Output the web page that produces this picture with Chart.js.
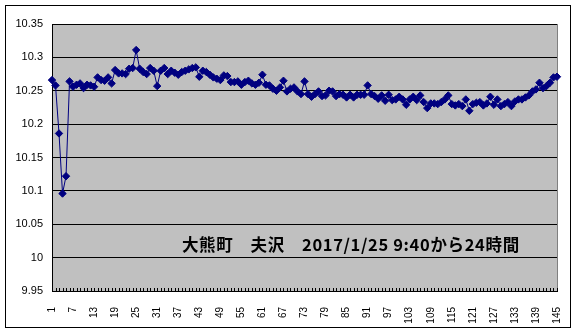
<!DOCTYPE html>
<html><head><meta charset="utf-8">
<script src="https://cdn.jsdelivr.net/npm/chart.js@4"></script>
<style>html,body{margin:0;padding:0;background:#fff}canvas{display:block}</style>
</head><body><canvas id="c" width="577" height="335"></canvas>
<script>
const categories = [1,2,3,4,5,6,7,8,9,10,11,12,13,14,15,16,17,18,19,20,21,22,23,24,25,26,27,28,29,30,
31,32,33,34,35,36,37,38,39,40,41,42,43,44,45,46,47,48,49,50,51,52,53,54,55,56,57,58,59,60,
61,62,63,64,65,66,67,68,69,70,71,72,73,74,75,76,77,78,79,80,81,82,83,84,85,86,87,88,89,90,
91,92,93,94,95,96,97,98,99,100,101,102,103,104,105,106,107,108,109,110,111,112,113,114,115,116,117,118,119,120,
121,122,123,124,125,126,127,128,129,130,131,132,133,134,135,136,137,138,139,140,141,142,143,144,145];
const values = [
10.266,10.258,10.186,10.096,10.122,10.264,10.256,10.259,10.261,10.254,
10.259,10.258,10.256,10.270,10.266,10.265,10.270,10.261,10.281,10.276,
10.276,10.275,10.283,10.284,10.311,10.283,10.278,10.275,10.284,10.280,
10.257,10.280,10.284,10.275,10.280,10.277,10.274,10.278,10.280,10.282,
10.284,10.285,10.271,10.280,10.278,10.274,10.270,10.268,10.266,10.273,
10.272,10.263,10.263,10.264,10.259,10.263,10.265,10.261,10.259,10.262,
10.274,10.259,10.258,10.253,10.250,10.255,10.265,10.249,10.253,10.255,
10.249,10.245,10.264,10.245,10.241,10.245,10.249,10.242,10.243,10.250,
10.249,10.242,10.245,10.244,10.240,10.244,10.240,10.244,10.244,10.244,
10.258,10.245,10.242,10.238,10.243,10.235,10.244,10.236,10.237,10.241,
10.237,10.229,10.237,10.241,10.236,10.243,10.233,10.224,10.231,10.231,
10.230,10.233,10.237,10.243,10.230,10.228,10.230,10.227,10.237,10.220,
10.230,10.232,10.233,10.228,10.231,10.241,10.229,10.237,10.227,10.230,
10.233,10.227,10.234,10.237,10.237,10.240,10.243,10.249,10.252,10.262,
10.254,10.257,10.262,10.270,10.271];
const yTicks = [9.95,10,10.05,10.1,10.15,10.2,10.25,10.3,10.35];
const labelEvery = 6;
const annotationText = '大熊町　夫沢　2017/1/25 9:40から24時間';

const framePlugin = {
  id: 'frame',
  beforeDraw(chart) {
    const {ctx, chartArea: a} = chart;
    ctx.save();
    ctx.fillStyle = '#fff';
    ctx.fillRect(0, 0, chart.width, chart.height);
    ctx.fillStyle = '#c0c0c0';
    ctx.fillRect(a.left, a.top, a.right - a.left, a.bottom - a.top);
    ctx.strokeStyle = '#000';
    ctx.lineWidth = 1;
    ctx.strokeRect(5.5, 5.5, 565, 322);
    ctx.restore();
  },
  beforeDatasetsDraw(chart) {
    const {ctx, chartArea: a, scales} = chart;
    ctx.save();
    ctx.strokeStyle = '#808080';
    ctx.lineWidth = 1;
    ctx.beginPath();
    ctx.moveTo(Math.round(a.right) + 0.5, a.top);
    ctx.lineTo(Math.round(a.right) + 0.5, a.bottom);
    ctx.stroke();
    ctx.strokeStyle = '#000';
    ctx.beginPath();
    for (let i = 0; i < categories.length; i++) {
      const x = Math.round(scales.x.getPixelForValue(i)) + 0.5;
      ctx.moveTo(x, a.bottom);
      ctx.lineTo(x, a.bottom - 3);
    }
    ctx.stroke();
    ctx.restore();
  },
  afterDraw(chart) {
    const {ctx, scales} = chart;
    ctx.save();
    ctx.fillStyle = '#000';
    ctx.font = 'bold 16.5px "Noto Sans CJK JP"';
    ctx.textAlign = 'left';
    ctx.textBaseline = 'middle';
    const x0 = scales.x.getPixelForValue(37.06);
    const x1 = scales.x.getPixelForValue(133.2);
    const w = ctx.measureText(annotationText).width;
    const chars = Array.from(annotationText);
    const extra = Math.max(0, (x1 - x0 - w) / (chars.length - 1));
    let x = x0;
    const y = scales.y.getPixelForValue(10.019);
    for (const ch of chars) {
      ctx.fillText(ch, x, y);
      x += ctx.measureText(ch).width + extra;
    }
    ctx.restore();
  }
};

new Chart(document.getElementById('c'), {
  type: 'line',
  data: {
    labels: categories,
    datasets: [{
      data: values,
      borderColor: '#000080',
      backgroundColor: '#000080',
      borderWidth: 1,
      pointStyle: 'rectRot',
      pointRadius: 3.7,
      pointBorderWidth: 1,
      pointBorderColor: '#000080',
      pointBackgroundColor: '#000080',
      tension: 0,
      fill: false
    }]
  },
  options: {
    responsive: false,
    animation: false,
    devicePixelRatio: 1,
    layout: {padding: {left: 0, right: 16, top: 24, bottom: 0}},
    plugins: {legend: {display: false}, tooltip: {enabled: false}},
    scales: {
      x: {
        type: 'category',
        offset: false,
        grid: {display: false},
        border: {display: true, color: '#000', width: 1},
        ticks: {
          autoSkip: false, minRotation: 90, maxRotation: 90, padding: 8,
          color: '#000', font: {family: '"Liberation Sans", Arial', size: 10},
          callback: (v, i) => (i % labelEvery === 0 ? String(categories[i]) : '')
        },
        afterFit(s) { s.height = 44; }
      },
      y: {
        min: 9.95, max: 10.35,
        afterBuildTicks(s) { s.ticks = yTicks.map(v => ({value: v})); },
        grid: {color: '#000', drawTicks: false},
        border: {display: true, color: '#000', width: 1},
        ticks: {
          padding: 9, color: '#000', font: {family: '"Liberation Sans", Arial', size: 11},
          callback: v => String(+Number(v).toFixed(2))
        },
        afterFit(s) { s.width = 52; }
      }
    }
  },
  plugins: [framePlugin]
});
</script>
</body></html>
